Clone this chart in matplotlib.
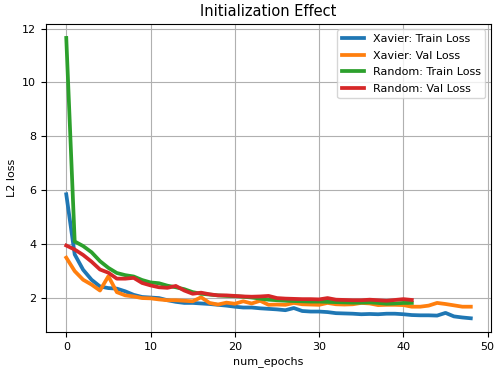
import matplotlib
matplotlib.use("Agg")
import matplotlib.pyplot as plt

xavier_train = [5.85, 3.62, 3.05, 2.68, 2.43, 2.37, 2.35, 2.25, 2.12, 2.04,
                2.02, 2.0, 1.92, 1.86, 1.82, 1.82, 1.8, 1.78, 1.75, 1.72,
                1.68, 1.65, 1.65, 1.62, 1.6, 1.58, 1.55, 1.63, 1.52, 1.5,
                1.5, 1.48, 1.44, 1.43, 1.42, 1.4, 1.41, 1.4, 1.42, 1.42,
                1.4, 1.37, 1.36, 1.36, 1.35, 1.45, 1.32, 1.28, 1.25]
xavier_val = [3.5, 3.0, 2.68, 2.5, 2.28, 2.81, 2.22, 2.1, 2.06, 2.0,
              1.99, 1.95, 1.92, 1.92, 1.9, 1.88, 2.03, 1.82, 1.76, 1.83,
              1.79, 1.88, 1.8, 1.9, 1.75, 1.76, 1.75, 1.82, 1.77, 1.76,
              1.75, 1.82, 1.77, 1.76, 1.77, 1.82, 1.8, 1.74, 1.75, 1.75,
              1.74, 1.68, 1.68, 1.72, 1.82, 1.78, 1.73, 1.68, 1.68]
random_train = [11.65, 4.1, 3.93, 3.7, 3.37, 3.12, 2.93, 2.85, 2.8, 2.67,
                2.58, 2.55, 2.46, 2.4, 2.33, 2.22, 2.16, 2.13, 2.1, 2.08,
                2.07, 2.05, 2.02, 1.98, 1.94, 1.92, 1.9, 1.89, 1.88, 1.87,
                1.87, 1.86, 1.85, 1.84, 1.83, 1.83, 1.84, 1.82, 1.79, 1.8,
                1.82, 1.82]
random_val = [3.95, 3.8, 3.6, 3.35, 3.06, 2.94, 2.72, 2.72, 2.75, 2.56,
              2.47, 2.4, 2.38, 2.45, 2.28, 2.16, 2.2, 2.14, 2.1, 2.1,
              2.08, 2.06, 2.05, 2.06, 2.08, 2.0, 1.98, 1.97, 1.96, 1.96,
              1.95, 2.0, 1.94, 1.93, 1.92, 1.92, 1.94, 1.92, 1.9, 1.93,
              1.96, 1.93]

labels = ["Xavier: Train Loss", "Xavier: Val Loss",
          "Random: Train Loss", "Random: Val Loss"]
series = [xavier_train, xavier_val, random_train, random_val]
colors = ["#1f77b4", "#ff7f0e", "#2ca02c", "#d62728"]

fig = plt.figure(figsize=(4.95, 3.68), dpi=100)
ax = fig.add_axes([0.093, 0.097, 0.899, 0.838])
for ys, lab, c in zip(series, labels, colors):
    ax.plot(range(len(ys)), ys, color=c, lw=2.7, label=lab)
ax.grid(True)
ax.set_title("Initialization Effect", fontsize=10.5)
ax.set_xlabel("num_epochs", fontsize=8, labelpad=3)
ax.set_ylabel("L2 loss", fontsize=8)
ax.tick_params(labelsize=8)
ax.legend(loc="upper right", fontsize=8, labelspacing=0.6)
fig.savefig("out.png", dpi=100)
